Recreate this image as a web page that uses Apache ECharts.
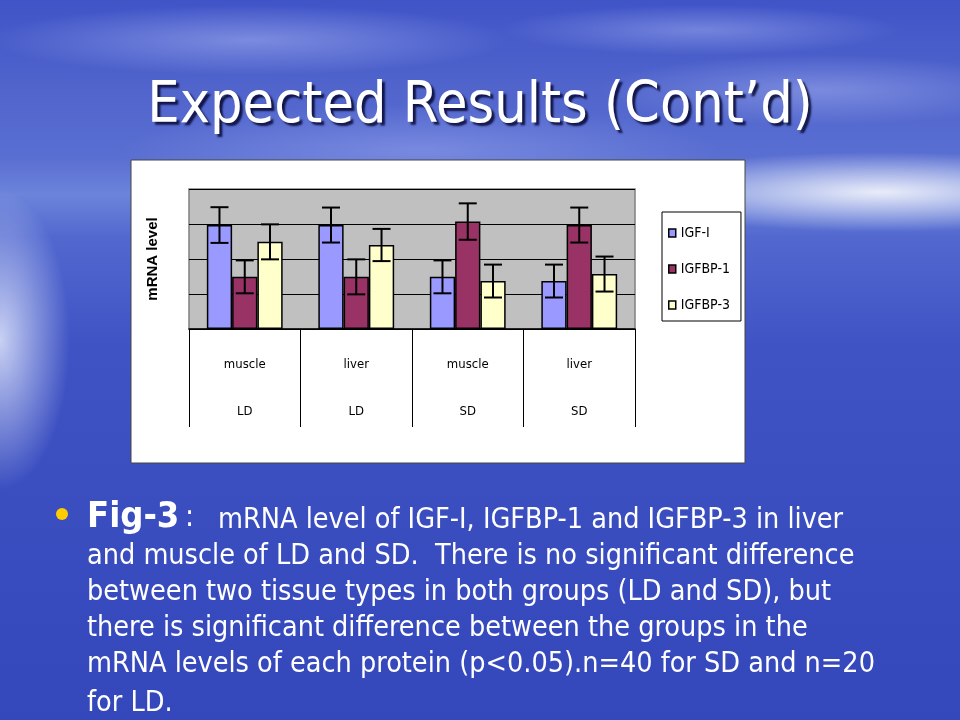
<!DOCTYPE html>
<html>
<head>
<meta charset="utf-8">
<script src="https://cdn.jsdelivr.net/npm/echarts@6/dist/echarts.min.js"></script>
<style>
html,body{margin:0;padding:0;width:960px;height:720px;overflow:hidden;}
#bg{position:absolute;left:0;top:0;width:960px;height:720px;
background:
 radial-gradient(ellipse 260px 40px at 880px 192px, rgba(255,255,255,0.85), rgba(255,255,255,0) 100%),
 radial-gradient(ellipse 70px 150px at 0px 340px, rgba(235,240,255,0.8), rgba(255,255,255,0) 100%),
 radial-gradient(ellipse 260px 35px at 250px 40px, rgba(200,210,255,0.4), rgba(255,255,255,0) 100%),
 radial-gradient(ellipse 200px 25px at 700px 30px, rgba(200,210,255,0.35), rgba(255,255,255,0) 100%),
 radial-gradient(ellipse 220px 35px at 820px 90px, rgba(200,210,255,0.35), rgba(255,255,255,0) 100%),
 radial-gradient(ellipse 300px 45px at 420px 150px, rgba(190,200,255,0.3), rgba(255,255,255,0) 100%),
 linear-gradient(180deg, #4054c8 0%, #5064cc 12%, #5a6fd2 22%, #6c84da 27%, #5268cf 33%, #3f53c4 48%, #3a4ec0 70%, #3447bb 100%);}
#chart{position:absolute;left:0;top:0;width:960px;height:720px;}
</style>
</head>
<body>
<div id="bg"></div>
<div id="chart"></div>
<script>
var categories = ['muscle\nLD', 'liver\nLD', 'muscle\nSD', 'liver\nSD'];
var seriesNames = ['IGF-I', 'IGFBP-1', 'IGFBP-3'];
var igf1 = [2.97, 2.97, 1.49, 1.37];
var igfbp1 = [1.49, 1.49, 3.07, 2.97];
var igfbp3 = [2.49, 2.40, 1.37, 1.57];
var igf1Err = [0.51, 0.50, 0.47, 0.47];
var igfbp1Err = [0.47, 0.50, 0.52, 0.50];
var igfbp3Err = [0.50, 0.46, 0.47, 0.50];
var yTicks = [0, 1, 2, 3, 4];

var values = [igf1, igfbp1, igfbp3];
var errs = [igf1Err, igfbp1Err, igfbp3Err];
var colors = ['#9999FF', '#993366', '#FFFFCC'];
var catGap = 0.32;

var chart = echarts.init(document.getElementById('chart'), null, {renderer: 'canvas'});
var narrow = "'Liberation Sans Narrow', 'DejaVu Sans Condensed', 'Liberation Sans', sans-serif";
var cond = "'DejaVu Sans Condensed', 'DejaVu Sans', sans-serif";

var series = [];
values.forEach(function (v, k) {
  series.push({
    name: seriesNames[k], type: 'bar', data: v,
    barGap: '0%', barCategoryGap: (catGap * 100) + '%',
    itemStyle: {color: colors[k], borderColor: '#000', borderWidth: 1.5},
    emphasis: {disabled: true}, z: 2
  });
});
values.forEach(function (v, k) {
  series.push({
    type: 'custom', name: seriesNames[k] + ' err', z: 5, silent: true,
    data: v.map(function (val, i) { return [i, val - errs[k][i], val + errs[k][i]]; }),
    encode: {x: 0, y: [1, 2]},
    renderItem: function (params, api) {
      var i = api.value(0);
      var lo = api.coord([i, api.value(1)]);
      var hi = api.coord([i, api.value(2)]);
      var band = api.size([1, 0])[0];
      var bw = band * (1 - catGap) / 3;
      var x = lo[0] + (k - 1) * bw;
      var cap = 9;
      var st = {stroke: '#000', lineWidth: 2};
      return {type: 'group', children: [
        {type: 'line', shape: {x1: x, y1: lo[1], x2: x, y2: hi[1]}, style: st},
        {type: 'line', shape: {x1: x - cap, y1: lo[1], x2: x + cap, y2: lo[1]}, style: st},
        {type: 'line', shape: {x1: x - cap, y1: hi[1], x2: x + cap, y2: hi[1]}, style: st}
      ]};
    }
  });
});

var bodyLines = [
  'and muscle of LD and SD.  There is no significant difference',
  'between two tissue types in both groups (LD and SD), but',
  'there is significant difference between the groups in the',
  'mRNA levels of each protein (p<0.05).n=40 for SD and n=20',
  'for LD.'
];
var bodyY = [557, 593, 629, 665, 704];

function txt(x, y, t, font, align) {
  return {type: 'text', x: x, y: y, style: {text: t, fill: '#fff', font: font,
    align: align || 'left', verticalAlign: 'middle', textAlign: align || 'left', textVerticalAlign: 'middle'}};
}

var title = txt(480, 107, 'Expected Results (Cont\u2019d)', '57px ' + cond, 'center');
title.style.textShadowColor = 'rgba(0,0,40,0.8)';
title.style.textShadowOffsetX = 3;
title.style.textShadowOffsetY = 3;
title.style.textShadowBlur = 2;
title.style.shadowColor = 'rgba(0,0,40,0.8)';
title.style.shadowOffsetX = 3;
title.style.shadowOffsetY = 3;
title.style.shadowBlur = 2;

var graphics = [
  {type: 'rect', z: -100, shape: {x: 131, y: 160, width: 614, height: 303},
   style: {fill: '#ffffff', stroke: '#444', lineWidth: 1}},
  title,
  {type: 'circle', shape: {cx: 62, cy: 514, r: 6}, style: {fill: '#FFCC00'}},
  txt(87, 518, 'Fig-3', 'bold 36px ' + cond),
  txt(185, 518, ':', '30px ' + cond),
  txt(218, 521, 'mRNA level of IGF-I, IGFBP-1 and IGFBP-3 in liver', '28.5px ' + cond)
];
bodyLines.forEach(function (t, i) {
  graphics.push(txt(87, bodyY[i], t, '28.5px ' + cond));
});

chart.setOption({
  animation: false,
  backgroundColor: 'transparent',
  grid: {left: 189, right: 325, top: 189, bottom: 391, show: true, backgroundColor: '#C0C0C0',
    borderColor: '#808080', borderWidth: 1.5, z: 0},
  legend: {
    data: seriesNames, orient: 'vertical', left: 662, top: 212,
    backgroundColor: '#ffffff', borderColor: '#000', borderWidth: 1,
    padding: [14, 11, 9, 6], itemGap: 22, itemWidth: 7, itemHeight: 8, icon: 'rect',
    textStyle: {fontFamily: narrow, fontSize: 14, color: '#000', lineHeight: 14},
    itemStyle: {borderColor: '#000', borderWidth: 1.5},
    selectedMode: false
  },
  xAxis: {
    type: 'category', data: categories,
    axisLine: {show: true, lineStyle: {color: '#000', width: 1.5}},
    axisTick: {show: true, interval: 0, length: 98, lineStyle: {color: '#000', width: 1}},
    axisLabel: {interval: 0, margin: 12, lineHeight: 47, fontFamily: narrow, fontSize: 13, color: '#000'}
  },
  yAxis: {
    type: 'value', min: yTicks[0], max: yTicks[yTicks.length - 1], interval: 1,
    name: 'mRNA level', nameLocation: 'middle', nameGap: 29, nameRotate: 90,
    nameTextStyle: {fontFamily: 'Liberation Sans, sans-serif', fontWeight: 'bold', fontSize: 15, color: '#000'},
    axisLine: {show: false}, axisTick: {show: false}, axisLabel: {show: false},
    splitLine: {show: true, lineStyle: {color: '#000', width: 1}}
  },
  series: series,
  graphic: graphics
});
</script>
</body>
</html>
